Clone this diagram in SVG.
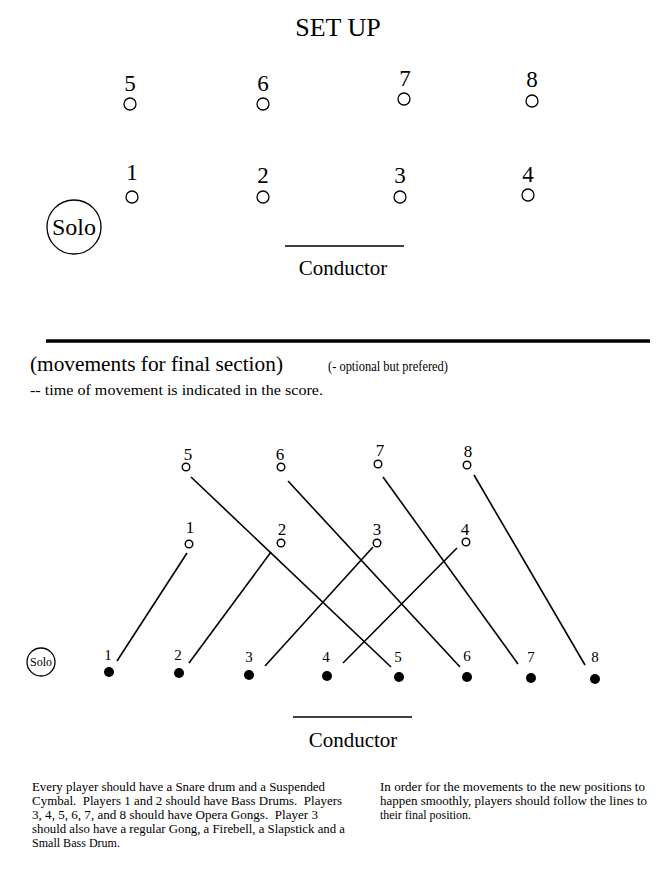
<svg xmlns="http://www.w3.org/2000/svg" width="672" height="876" viewBox="0 0 672 876">
<style>
text{font-family:"Liberation Serif","Times New Roman",serif;fill:#000}
.big{font-size:23px;text-anchor:middle}
.mid{font-size:17px;text-anchor:middle}
.sm{font-size:15px;text-anchor:middle}
.pos{fill:#fff;stroke:#000;stroke-width:1.3}
.pos2{fill:#fff;stroke:#000;stroke-width:1.4}
.dot{fill:#000}
.ln{stroke:#000;stroke-width:1.6;fill:none}
.para{font-size:13.5px}
</style>
<rect width="672" height="876" fill="#fff"/>
<text x="338" y="36" style="font-size:26px;text-anchor:middle">SET UP</text>

<g id="setup">
<g id="s5"><text class="big" x="130" y="91">5</text><circle class="pos" cx="130" cy="104" r="6"/></g>
<g id="s6"><text class="big" x="263" y="91">6</text><circle class="pos" cx="263" cy="104" r="6"/></g>
<g id="s7"><text class="big" x="405" y="86">7</text><circle class="pos" cx="404" cy="99" r="6"/></g>
<g id="s8"><text class="big" x="532" y="87">8</text><circle class="pos" cx="532" cy="101" r="6"/></g>
<g id="s1"><text class="big" x="132" y="180">1</text><circle class="pos" cx="132" cy="197" r="6"/></g>
<g id="s2"><text class="big" x="263" y="183">2</text><circle class="pos" cx="263" cy="197" r="6"/></g>
<g id="s3"><text class="big" x="400" y="183">3</text><circle class="pos" cx="400" cy="197" r="6"/></g>
<g id="s4"><text class="big" x="528" y="182">4</text><circle class="pos" cx="528" cy="195" r="6"/></g>
<g id="sSolo"><circle class="pos" cx="74" cy="227" r="27"/><text x="74" y="235" style="font-size:24px;text-anchor:middle">Solo</text></g>
<g id="sCond"><line class="ln" x1="285" y1="246" x2="404" y2="246"/><text x="343" y="275" style="font-size:21px;text-anchor:middle">Conductor</text></g>
</g>

<line x1="46" y1="341" x2="650" y2="341" stroke="#000" stroke-width="3.5"/>
<text x="30" y="371" style="font-size:20px" textLength="253" lengthAdjust="spacingAndGlyphs">(movements for final section)</text>
<text x="328" y="371" style="font-size:14px" textLength="120" lengthAdjust="spacingAndGlyphs">(- optional but prefered)</text>
<text x="30" y="395" style="font-size:14px" textLength="293" lengthAdjust="spacingAndGlyphs">-- time of movement is indicated in the score.</text>

<g id="connectors">
<line class="ln" x1="187" y1="553" x2="117" y2="661"/>
<line class="ln" x1="271" y1="552" x2="189" y2="663"/>
<line class="ln" x1="373" y1="547" x2="265" y2="666"/>
<line class="ln" x1="457" y1="548" x2="343" y2="663"/>
<line class="ln" x1="191" y1="477" x2="391" y2="667"/>
<line class="ln" x1="288" y1="481" x2="460" y2="667"/>
<line class="ln" x1="383" y1="477" x2="518" y2="664"/>
<line class="ln" x1="474" y1="475" x2="585" y2="665"/>
</g>

<g id="start">
<g id="m5"><text class="mid" x="188" y="460">5</text><circle class="pos2" cx="186" cy="467" r="3.8"/></g>
<g id="m6"><text class="mid" x="280" y="460">6</text><circle class="pos2" cx="281" cy="467" r="3.8"/></g>
<g id="m7"><text class="mid" x="380" y="456">7</text><circle class="pos2" cx="378" cy="464" r="3.8"/></g>
<g id="m8"><text class="mid" x="468" y="457">8</text><circle class="pos2" cx="467" cy="465" r="3.8"/></g>
<g id="m1"><text class="mid" x="190" y="533">1</text><circle class="pos2" cx="189" cy="544" r="3.8"/></g>
<g id="m2"><text class="mid" x="282" y="535">2</text><circle class="pos2" cx="281" cy="543" r="3.8"/></g>
<g id="m3"><text class="mid" x="377" y="535">3</text><circle class="pos2" cx="377" cy="543" r="3.8"/></g>
<g id="m4"><text class="mid" x="465" y="535">4</text><circle class="pos2" cx="466" cy="542" r="3.8"/></g>
</g>

<g id="final">
<g id="mSolo"><circle class="pos" cx="41" cy="662" r="14"/><text x="41" y="666" style="font-size:12px;text-anchor:middle">Solo</text></g>
<g id="f1"><text class="sm" x="108" y="660">1</text><circle class="dot" cx="109" cy="672" r="5"/></g>
<g id="f2"><text class="sm" x="178" y="660">2</text><circle class="dot" cx="179" cy="673" r="5"/></g>
<g id="f3"><text class="sm" x="249" y="662">3</text><circle class="dot" cx="249" cy="675" r="5"/></g>
<g id="f4"><text class="sm" x="326" y="662">4</text><circle class="dot" cx="327" cy="676" r="5"/></g>
<g id="f5"><text class="sm" x="398" y="662">5</text><circle class="dot" cx="399" cy="677" r="5"/></g>
<g id="f6"><text class="sm" x="467" y="661">6</text><circle class="dot" cx="467" cy="677" r="5"/></g>
<g id="f7"><text class="sm" x="531" y="662">7</text><circle class="dot" cx="531" cy="678" r="5"/></g>
<g id="f8"><text class="sm" x="595" y="662">8</text><circle class="dot" cx="595" cy="679" r="5"/></g>
<g id="fCond"><line class="ln" x1="293" y1="717" x2="412" y2="717"/><text x="353" y="747" style="font-size:21px;text-anchor:middle">Conductor</text></g>
</g>

<g id="notes">
<text class="para" x="32" y="791" textLength="293" lengthAdjust="spacingAndGlyphs">Every player should have a Snare drum and a Suspended</text>
<text class="para" x="32" y="805" textLength="310" lengthAdjust="spacingAndGlyphs" xml:space="preserve">Cymbal.  Players 1 and 2 should have Bass Drums.  Players</text>
<text class="para" x="32" y="819" textLength="286" lengthAdjust="spacingAndGlyphs" xml:space="preserve">3, 4, 5, 6, 7, and 8 should have Opera Gongs.  Player 3</text>
<text class="para" x="32" y="833" textLength="313" lengthAdjust="spacingAndGlyphs">should also have a regular Gong, a Firebell, a Slapstick and a</text>
<text class="para" x="32" y="847" textLength="88" lengthAdjust="spacingAndGlyphs">Small Bass Drum.</text>
<text class="para" x="380" y="791" textLength="265" lengthAdjust="spacingAndGlyphs">In order for the movements to the new positions to</text>
<text class="para" x="380" y="805" textLength="267" lengthAdjust="spacingAndGlyphs">happen smoothly, players should follow the lines to</text>
<text class="para" x="380" y="819" textLength="91" lengthAdjust="spacingAndGlyphs">their final position.</text>
</g>
</svg>
